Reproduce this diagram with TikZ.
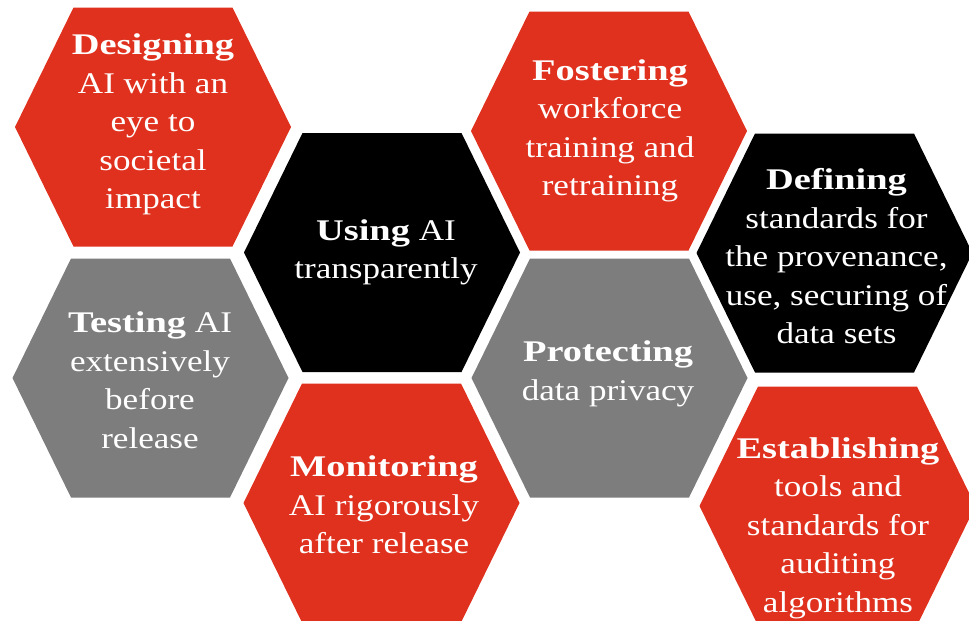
\documentclass[tikz,border=0pt]{standalone}
\usepackage{fontspec}
\setmainfont{Liberation Serif}[FakeStretch=1.17]
\newfontfamily\hbfam{Liberation Serif}[FakeStretch=1.28]
\definecolor{pwcred}{HTML}{E0301E}
\definecolor{pwcgray}{HTML}{7D7D7D}
\newcommand\fl{\rule{0pt}{22pt}}
\newcommand\hb[1]{{\hbfam\bfseries #1}}
\tikzset{
  hexlabel/.style={anchor=north, inner sep=0pt, align=center, text=white,
    font=\fontsize{30}{38.5}\selectfont},
}
\newcommand\hexagon[3]{%
  \fill[#3] (#1,#2) ++(-138,0) -- ++(58.5,-119.5) -- ++(159,0) -- ++(58.5,119.5)
    -- ++(-58.5,119.5) -- ++(-159,0) -- cycle;}
\begin{document}
\begin{tikzpicture}[x=1pt,y=-1pt]
\useasboundingbox (0,0) rectangle (969,621);
\clip (0,0) rectangle (969,621);
\fill[white] (0,0) rectangle (969,621);
\hexagon{153}{127}{pwcred}
\hexagon{382}{252.5}{black}
\hexagon{150.5}{378}{pwcgray}
\hexagon{381.5}{503}{pwcred}
\hexagon{609}{131}{pwcred}
\hexagon{609.5}{378}{pwcgray}
\hexagon{834.5}{253}{black}
\hexagon{837.5}{506}{pwcred}
\node[hexlabel] (designing) at (153,32.3) {\fl\hb{Designing}\\AI with an\\eye to\\societal\\impact};
\node[hexlabel] (using) at (386,218) {\fl\hb{Using} AI\\transparently};
\node[hexlabel] (testing) at (150,310.7) {\fl\hb{Testing} AI\\extensively\\before\\release};
\node[hexlabel] (monitoring) at (384,454.7) {\fl\hb{Monitoring}\\AI rigorously\\after release};
\node[hexlabel] (fostering) at (610,58) {\fl\hb{Fostering}\\workforce\\training and\\retraining};
\node[hexlabel] (protecting) at (608,339.7) {\fl\hb{Protecting}\\data privacy};
\node[hexlabel] (defining) at (836.5,167.3) {\fl\hb{Defining}\\standards for\\the provenance,\\use, securing of\\data sets};
\node[hexlabel] (establishing) at (838,436) {\fl\hb{Establishing}\\tools and\\standards for\\auditing\\algorithms};
\end{tikzpicture}
\end{document}
